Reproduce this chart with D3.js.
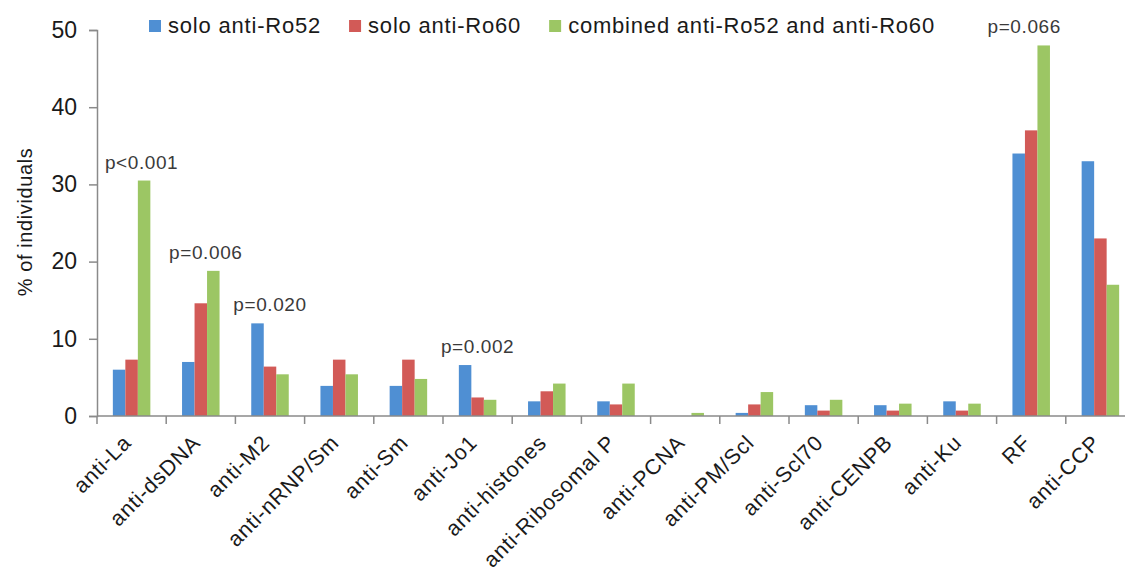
<!DOCTYPE html>
<html>
<head>
<meta charset="utf-8">
<script src="https://cdn.jsdelivr.net/npm/d3@7"></script>
<style>
  html, body { margin: 0; padding: 0; background: #fff; }
  svg { display: block; font-family: "Liberation Sans", Arial, sans-serif; }
</style>
</head>
<body>
<svg id="chart" width="1125" height="575"></svg>
<script>
// Autoantibody prevalence by anti-Ro52 / anti-Ro60 status (% of individuals)
const categories = ["anti-La", "anti-dsDNA", "anti-M2", "anti-nRNP/Sm", "anti-Sm", "anti-Jo1",
  "anti-histones", "anti-Ribosomal P", "anti-PCNA", "anti-PM/Scl", "anti-Scl70",
  "anti-CENPB", "anti-Ku", "RF", "anti-CCP"];
const seriesNames = ["solo anti-Ro52", "solo anti-Ro60", "combined anti-Ro52 and anti-Ro60"];
const soloRo52 = [6.0, 7.0, 12.0, 3.9, 3.9, 6.6, 1.9, 1.9, 0, 0.4, 1.4, 1.4, 1.9, 34.0, 33.0];
const soloRo60 = [7.3, 14.6, 6.4, 7.3, 7.3, 2.4, 3.2, 1.5, 0, 1.5, 0.7, 0.7, 0.7, 37.0, 23.0];
const combined = [30.5, 18.8, 5.4, 5.4, 4.8, 2.1, 4.2, 4.2, 0.4, 3.1, 2.1, 1.6, 1.6, 48.0, 17.0];
const yTicks = [0, 10, 20, 30, 40, 50];
const pCategories = ["anti-La", "anti-dsDNA", "anti-M2", "anti-Jo1", "RF"];
const pLabels = ["p<0.001", "p=0.006", "p=0.020", "p=0.002", "p=0.066"];

const colors = ["#4f8fd3", "#d25a57", "#9cc664"];
const values = [soloRo52, soloRo60, combined];

const svg = d3.select("#chart");
const axisColor = "#8a8a8a";

// scales
const x0 = d3.scaleBand().domain(categories).range([97, 97 + 15 * 69.2])
  .paddingInner(0.458).paddingOuter(0.229);
const x1 = d3.scaleBand().domain(d3.range(seriesNames.length)).range([0, x0.bandwidth()]);
const y = d3.scaleLinear().domain([0, 50]).range([416, 30]);

// bars
const groups = svg.append("g").selectAll("g")
  .data(categories).join("g")
  .attr("transform", d => `translate(${x0(d)},0)`);
groups.selectAll("rect")
  .data((c, i) => values.map((v, s) => ({ s, v: v[i] })))
  .join("rect")
  .attr("x", d => x1(d.s))
  .attr("width", x1.bandwidth())
  .attr("y", d => y(d.v))
  .attr("height", d => y(0) - y(d.v))
  .attr("fill", d => colors[d.s]);

// y axis
const yAxis = svg.append("g").attr("transform", "translate(97,0)")
  .call(d3.axisLeft(y).tickValues(yTicks).tickSize(8).tickPadding(12));
yAxis.select(".domain").attr("stroke", axisColor).attr("stroke-width", 1.5);
yAxis.selectAll(".tick line").attr("stroke", axisColor).attr("stroke-width", 1.5);
yAxis.selectAll(".tick text").attr("font-size", 23).attr("fill", "#1a1a1a")
  .attr("font-family", "Liberation Sans, Arial, sans-serif");

// x axis: ticks between categories
const xAxisG = svg.append("g");
xAxisG.append("line")
  .attr("x1", 97).attr("x2", 97 + 15 * 69.2)
  .attr("y1", y(0)).attr("y2", y(0))
  .attr("stroke", axisColor).attr("stroke-width", 1.5);
xAxisG.selectAll("line.tk")
  .data(categories).join("line").attr("class", "tk")
  .attr("x1", d => x0(d) - x0.step() * x0.paddingOuter())
  .attr("x2", d => x0(d) - x0.step() * x0.paddingOuter())
  .attr("y1", y(0)).attr("y2", y(0) + 8)
  .attr("stroke", axisColor).attr("stroke-width", 1.5);
xAxisG.selectAll("text")
  .data(categories).join("text")
  .attr("transform", d => `translate(${x0(d) + x0.bandwidth() / 2 + 1},${y(0) + 28}) rotate(-45)`)
  .attr("text-anchor", "end")
  .attr("font-size", 21.5)
  .attr("letter-spacing", 0.8)
  .attr("fill", "#1a1a1a")
  .text(d => d);

// y axis title
svg.append("text")
  .attr("transform", `translate(32,222) rotate(-90)`)
  .attr("text-anchor", "middle")
  .attr("font-size", 20)
  .attr("letter-spacing", 0.6)
  .attr("fill", "#1a1a1a")
  .text("% of individuals");

// p-value annotations above each group's tallest bar
const pShift = { "anti-La": 10, "anti-dsDNA": 5, "anti-M2": 0, "anti-Jo1": 0, "RF": -7 };
svg.append("g").selectAll("text")
  .data(pCategories).join("text")
  .attr("x", c => x0(c) + x0.bandwidth() / 2 + pShift[c])
  .attr("y", c => {
    const i = categories.indexOf(c);
    return y(d3.max(values, v => v[i])) - 12;
  })
  .attr("text-anchor", "middle")
  .attr("font-size", 19)
  .attr("letter-spacing", 0.6)
  .attr("fill", "#3a3a3a")
  .text((c, i) => pLabels[i]);

// legend
const legend = svg.append("g");
let lx = 149;
seriesNames.forEach((name, i) => {
  legend.append("rect")
    .attr("x", lx).attr("y", 20).attr("width", 12).attr("height", 12)
    .attr("fill", colors[i]);
  const t = legend.append("text")
    .attr("x", lx + 19).attr("y", 33)
    .attr("font-size", 22)
    .attr("letter-spacing", 0.8)
    .attr("fill", "#1a1a1a")
    .text(name);
  lx = lx + 19 + t.node().getComputedTextLength() + 28;
});
</script>
</body>
</html>
